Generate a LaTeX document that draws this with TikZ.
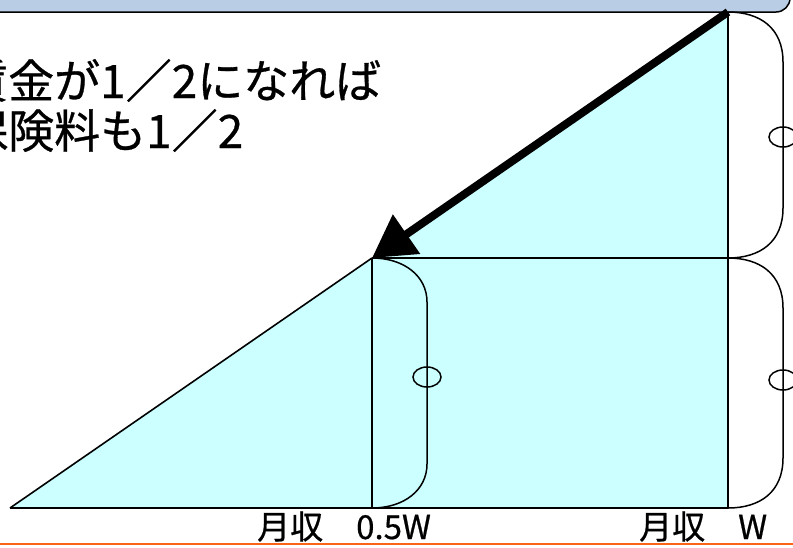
\documentclass[tikz,border=0pt]{standalone}
\usepackage{fontspec}
\usepackage{tikz}
\usetikzlibrary{arrows.meta, positioning, calc}
\newfontfamily\jpfont[FakeBold=0.6]{Noto Sans CJK JP}
\definecolor{areacyan}{RGB}{204, 255, 255}
\definecolor{bannerblue}{RGB}{185, 205, 229}
\definecolor{rulered}{RGB}{250, 100, 20}

\begin{document}
\begin{tikzpicture}[
    x=1pt, y=-1pt,
    edge/.style={line width=1.6pt},
    bigarrow/.style={-{Triangle[length=42pt, width=46pt]}, line width=8pt},
    bracket/.style={line width=1.5pt},
    note/.style={font=\jpfont\fontsize{46}{52}\selectfont, inner sep=0pt, anchor=base west},
    axislabel/.style={font=\jpfont\fontsize{33}{36}\selectfont, inner sep=0pt, anchor=base west}
]
\useasboundingbox (0,0) rectangle (793,547);

% corners of the wage triangle
\coordinate (left) at (10,508);
\coordinate (apex) at (728,12);
\coordinate (half) at (372,258);
\coordinate (halffoot) at (372,508);
\coordinate (cross) at (728,258);
\coordinate (foot) at (728,508);

% banner at the top
\draw[fill=bannerblue, line width=1.5pt, rounded corners=14pt] (-30,-40) rectangle (790,12);

\fill[areacyan] (left) -- (apex) -- (foot) -- cycle;

\draw[edge] (left) -- (half);
\draw[edge, line width=2.2pt] (half) -- (halffoot);
\draw[edge, line width=2.2pt] (half) -- (cross);
\draw[edge] (apex) -- (foot);
\draw[edge, line width=2.4pt] (left) -- (foot);

\draw[bigarrow] (apex) -- (half);

% brackets
\draw[bracket] (apex) .. controls (760,12) and (783,28) .. (783,62) -- (783,208)
    .. controls (783,242) and (760,258) .. (cross);
\draw[bracket] (cross) .. controls (760,258) and (783,274) .. (783,308) -- (783,458)
    .. controls (783,492) and (760,508) .. (foot);
\draw[bracket] (half) .. controls (404,258) and (427,276) .. (427,302) -- (427,464)
    .. controls (427,490) and (404,508) .. (halffoot);
\draw[bracket] (783,137) ellipse[x radius=14, y radius=10];
\draw[bracket] (783,380) ellipse[x radius=14, y radius=10];
\draw[bracket] (427,377) ellipse[x radius=14, y radius=10];

\node[note] (msgtop) at (-38,98) {賃金が1／2になれば};
\node[note] (msgbottom) at ($(msgtop.base west)+(0,50)$) {保険料も1／2};

\node[axislabel] (lowwage) at (257,539) {月収　0.5W};
\node[axislabel] (fullwage) at (639,539) {月収　W};

\draw[rulered, line width=2.5pt] (0,544) -- (793,544);
\end{tikzpicture}
\end{document}
